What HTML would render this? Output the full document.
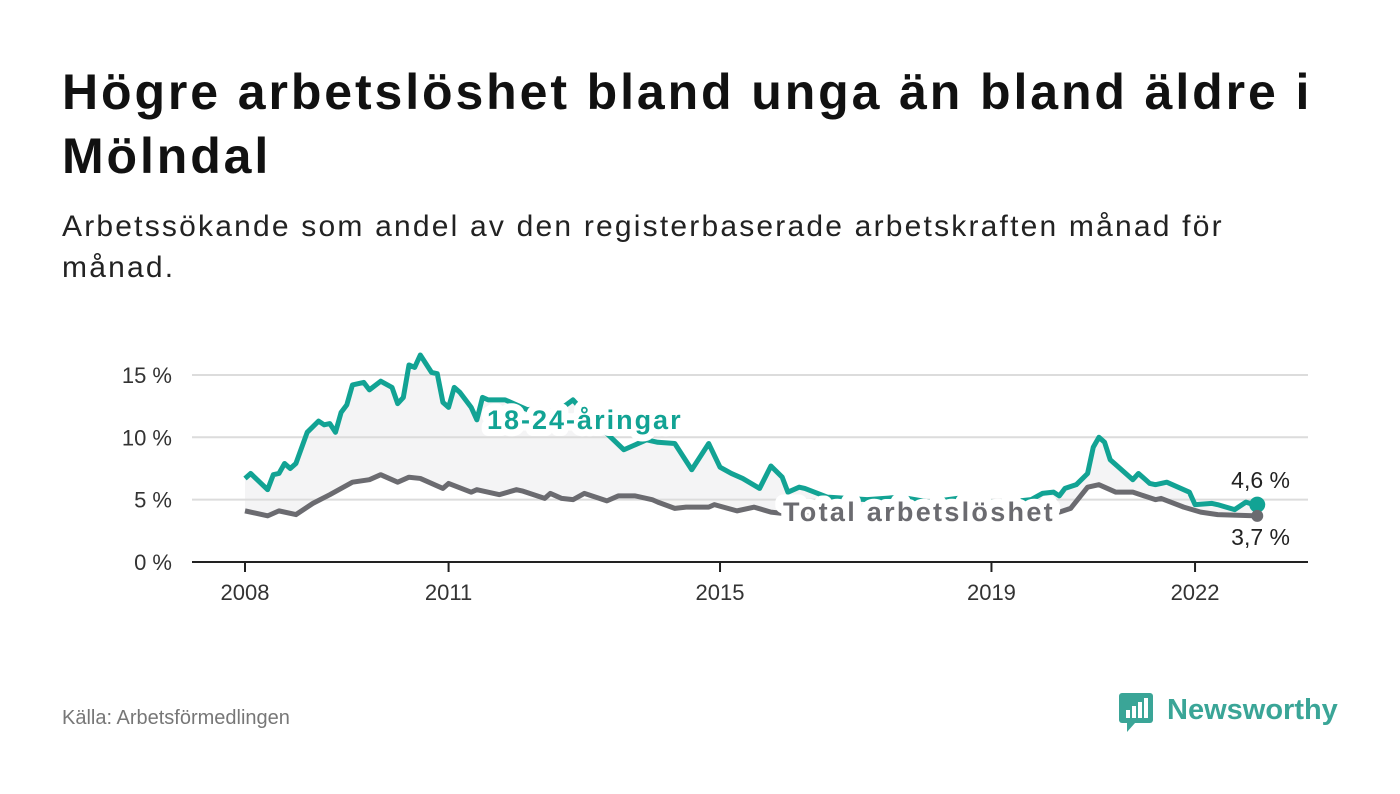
<!DOCTYPE html>
<html><head><meta charset="utf-8">
<style>
body{margin:0;width:1400px;height:794px;background:#fff;font-family:"Liberation Sans",sans-serif;overflow:hidden;position:relative}
h1{position:absolute;left:62px;top:60px;margin:0;font-size:50px;letter-spacing:2.9px;line-height:64px;font-weight:bold;color:#111;width:1300px}
.sub{position:absolute;left:62px;top:206px;margin:0;font-size:30px;letter-spacing:2.2px;line-height:41px;color:#222;width:1200px}
.src{position:absolute;left:62px;top:707px;font-size:20px;color:#777}
.logo{position:absolute;left:1119px;top:690px}
</style></head><body>
<h1>Högre arbetslöshet bland unga än bland äldre i Mölndal</h1>
<p class="sub">Arbetssökande som andel av den registerbaserade arbetskraften månad för månad.</p>
<svg id="chart" width="1400" height="794" style="position:absolute;left:0;top:0"></svg>
<div class="src">Källa: Arbetsförmedlingen</div>
<div class="logo">
<svg width="220" height="46"><rect x="0" y="3" width="34" height="30" rx="3" fill="#3aa597"/><path d="M8 33 L8 42 L16 33 Z" fill="#3aa597"/>
<rect x="7" y="20" width="4" height="8" fill="#fff"/><rect x="13" y="16" width="4" height="12" fill="#fff"/><rect x="19" y="12" width="4" height="16" fill="#fff"/><rect x="25" y="8" width="4" height="20" fill="#fff"/>
<text x="48" y="29" font-family="Liberation Sans, sans-serif" font-weight="bold" font-size="29" fill="#3aa597">Newsworthy</text></svg>
</div>
<script>
const youthMonths=[0,1,4,5,6,7,8,9,11,13,14,15,16,17,18,19,21,22,24,26,27,28,29,30,31,33,34,35,36,37,38,39,40,41,42,43,46,50,52,55,58,61,64,67,71,73,76,79,82,84,86,88,91,93,95,96,98,99,103,110,116,121,126,132,137,139,141,143,144,145,147,149,150,151,152,153,154,157,158,160,161,163,165,167,168,171,172,175,177,179];
const youthValues=[6.7,7.1,5.8,7.0,7.1,7.9,7.5,7.9,10.4,11.3,11.0,11.1,10.4,12.0,12.6,14.2,14.4,13.8,14.5,14.0,12.7,13.2,15.8,15.6,16.6,15.2,15.1,12.8,12.4,14.0,13.6,13.0,12.4,11.4,13.2,13.0,13.0,12.2,12.4,12.0,13.0,11.5,10.3,9.0,9.8,9.6,9.5,7.4,9.5,7.6,7.1,6.7,5.9,7.7,6.8,5.6,6.0,5.9,5.2,5.0,5.2,4.8,5.1,4.8,4.9,5.0,5.5,5.6,5.3,5.9,6.2,7.1,9.2,10.0,9.6,8.2,7.8,6.6,7.1,6.3,6.2,6.4,6.0,5.6,4.6,4.7,4.6,4.2,4.8,4.5,4.6];
const totalMonths=[0,4,6,9,12,15,19,22,24,27,29,31,35,36,40,41,45,48,49,53,54,56,58,60,64,66,69,72,73,76,78,82,83,87,90,93,95,105,115,125,135,144,146,149,151,154,157,161,162,166,169,172,179];
const totalValues=[4.1,3.7,4.1,3.8,4.7,5.4,6.4,6.6,7.0,6.4,6.8,6.7,5.9,6.3,5.6,5.8,5.4,5.8,5.7,5.1,5.5,5.1,5.0,5.5,4.9,5.3,5.3,5.0,4.8,4.3,4.4,4.4,4.6,4.1,4.4,4.0,3.9,3.6,3.5,3.6,3.7,4.0,4.3,6.0,6.2,5.6,5.6,5.0,5.1,4.4,4.0,3.8,3.7];
const yTicks=[0,5,10,15];
const yTickLabels=["0 %","5 %","10 %","15 %"];
const xTickYears=[2008,2011,2015,2019,2022];

const NS="http://www.w3.org/2000/svg";
const svg=document.getElementById('chart');
const X0=245,PXM=67.86/12,Y0=562,PXV=12.47;
const xs=m=>X0+m*PXM;
const ys=v=>Y0-v*PXV;
function el(t,a,p){const e=document.createElementNS(NS,t);for(const k in a)e.setAttribute(k,a[k]);(p||svg).appendChild(e);return e;}
function interp(ms,vs,m){for(let i=1;i<ms.length;i++){if(m<=ms[i]){const f=(m-ms[i-1])/(ms[i]-ms[i-1]);return vs[i-1]+f*(vs[i]-vs[i-1]);}}return vs[vs.length-1];}
let pts=[];
for(let m=0;m<=179;m++)pts.push(xs(m)+','+ys(interp(youthMonths,youthValues,m)));
for(let m=179;m>=0;m--)pts.push(xs(m)+','+ys(interp(totalMonths,totalValues,m)));
const area=el('polygon',{points:pts.join(' '),fill:'#f4f4f5'});


yTicks.forEach((t,i)=>{
 if(t>0){const g=el('line',{x1:192,x2:1308,y1:ys(t),y2:ys(t),stroke:'#dcdcdc','stroke-width':2});
 
 }
 const tx=el('text',{x:172,y:ys(t)+8,'text-anchor':'end','font-size':22,fill:'#333'});
 tx.textContent=yTickLabels[i];
 
 
});
const ax=el('line',{x1:192,x2:1308,y1:Y0,y2:Y0,stroke:'#222','stroke-width':2});


xTickYears.forEach(y=>{
 const x=xs((y-2008)*12);
 const tk=el('line',{x1:x,x2:x,y1:Y0,y2:Y0+10,stroke:'#222','stroke-width':2});
 
 
 const tx=el('text',{x:x,y:600,'text-anchor':'middle','font-size':22,fill:'#333'});
 tx.textContent=y;
 
 
});
function line(ms,vs,c,name){
 const p=el('polyline',{points:ms.map((m,i)=>xs(m)+','+ys(vs[i])).join(' '),fill:'none',stroke:c,'stroke-width':5,'stroke-linejoin':'round'});
 
 
}
line(totalMonths,totalValues,'#6b6b70','total-line');
line(youthMonths,youthValues,'#12a394','youth-line');
const d1=el('circle',{cx:xs(youthMonths[youthMonths.length-1]),cy:ys(youthValues[youthValues.length-1]),r:8,fill:'#12a394'});


const d2=el('circle',{cx:xs(totalMonths[totalMonths.length-1]),cy:ys(totalValues[totalValues.length-1]),r:6,fill:'#6b6b70'});


const l1=el('text',{x:487,y:429,'font-size':27,'font-weight':'bold','letter-spacing':2,fill:'#12a394',stroke:'#fff','stroke-width':14,'paint-order':'stroke','stroke-linejoin':'round'});
l1.textContent='18-24-åringar';


const l2=el('text',{x:783,y:521,'font-size':27,'font-weight':'bold','letter-spacing':2.3,fill:'#6b6b70',stroke:'#fff','stroke-width':16,'paint-order':'stroke','stroke-linejoin':'round'});
l2.textContent='Total arbetslöshet';


const v1=el('text',{x:1290,y:488,'text-anchor':'end','font-size':23,fill:'#222'});
v1.textContent='4,6 %';


const v2=el('text',{x:1290,y:545,'text-anchor':'end','font-size':23,fill:'#222'});
v2.textContent='3,7 %';


</script>
</body></html>
